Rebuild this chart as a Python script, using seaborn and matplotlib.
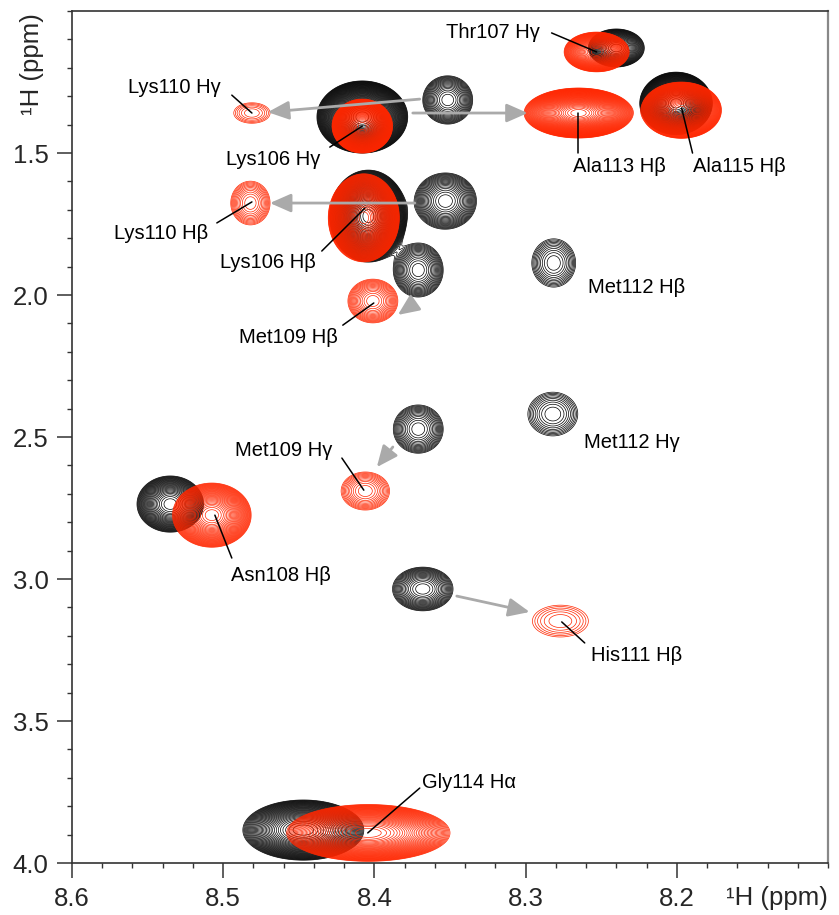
"""Overlay of two 1H-1H spectra (black = reference, red = shifted state)
drawn as contour plots, with residue labels and gray shift arrows."""
import numpy as np
import matplotlib
matplotlib.use("Agg")
import matplotlib.pyplot as plt
from matplotlib.ticker import MultipleLocator
import seaborn as sns


# --- peaks: centre (ppm), half-extent of the lowest contour (ppm), contour count
black_x = [8.240, 8.408, 8.3515, 8.2005, 8.404, 8.353, 8.371, 8.2814, 8.371, 8.282, 8.535, 8.368, 8.447]
black_y = [1.130, 1.373, 1.313, 1.325, 1.722, 1.669, 1.912, 1.887, 2.472, 2.419, 2.736, 3.035, 3.884]
black_hx = [0.0185, 0.030, 0.0165, 0.024, 0.0255, 0.0205, 0.0165, 0.0145, 0.0165, 0.0165, 0.022, 0.020, 0.040]
black_hy = [0.067, 0.127, 0.085, 0.110, 0.162, 0.099, 0.095, 0.085, 0.085, 0.077, 0.099, 0.077, 0.106]
black_n = [25, 50, 18, 45, 50, 20, 17, 11, 15, 10, 28, 18, 35]

red_x = [8.253, 8.481, 8.408, 8.265, 8.197, 8.482, 8.407, 8.401, 8.406, 8.5075, 8.277, 8.404]
red_y = [1.144, 1.359, 1.405, 1.359, 1.349, 1.676, 1.728, 2.021, 2.690, 2.775, 3.148, 3.894]
red_hx = [0.0215, 0.012, 0.020, 0.036, 0.0265, 0.013, 0.0235, 0.0165, 0.016, 0.026, 0.0185, 0.054]
red_hy = [0.070, 0.036, 0.095, 0.088, 0.099, 0.077, 0.155, 0.077, 0.067, 0.113, 0.056, 0.100]
red_n = [35, 6, 55, 50, 50, 12, 55, 16, 12, 35, 6, 40]

# --- labels: text, text position, ha, leader line start -> end (None = no leader)
labels = ["Thr107 Hγ", "Lys110 Hγ", "Lys106 Hγ", "Ala113 Hβ", "Ala115 Hβ",
          "Lys110 Hβ", "Lys106 Hβ", "Met112 Hβ", "Met109 Hβ", "Met112 Hγ",
          "Met109 Hγ", "Asn108 Hβ", "His111 Hβ", "Gly114 Hα"]
label_x = [8.2907, 8.532, 8.4672, 8.2378, 8.1585, 8.5412, 8.4705, 8.2266,
           8.4572, 8.2299, 8.4599, 8.4619, 8.2266, 8.3687]
label_y = [1.074, 1.268, 1.521, 1.549, 1.549, 1.782, 1.887, 1.972,
           2.148, 2.518, 2.546, 2.986, 3.268, 3.718]
label_ha = ["right", "center", "center", "center", "center", "center", "center",
            "center", "center", "center", "center", "center", "center", "left"]
leader_from = [(8.2828, 1.077), (8.4943, 1.296), (8.4295, 1.479), (8.2656, 1.500),
               (8.1896, 1.500), (8.5042, 1.746), (8.4348, 1.845), None,
               (8.4209, 2.106), None, (8.4215, 2.574), (8.4943, 2.926),
               (8.2609, 3.225), (8.3700, 3.736)]
leader_to = [(8.253, 1.144), (8.481, 1.359), (8.408, 1.405), (8.2656, 1.359),
             (8.1968, 1.342), (8.481, 1.672), (8.4063, 1.694), None,
             (8.4004, 2.028), None, (8.407, 2.687), (8.5055, 2.775),
             (8.2761, 3.151), (8.4044, 3.894)]

# --- shift arrows (black peak -> red peak)
arrow_from = [(8.370, 1.310), (8.3746, 1.359), (8.3733, 1.676),
              (8.3733, 2.028), (8.3878, 2.535), (8.3455, 3.060)]
arrow_to = [(8.4705, 1.356), (8.2986, 1.359), (8.4691, 1.676),
            (8.3845, 2.070), (8.3984, 2.606), (8.2973, 3.116)]

STEP = 1.12     # ratio between successive contour levels
BASE = 1.0      # lowest contour level

xs = np.linspace(8.1, 8.6, 900)
ys = np.linspace(1.0, 4.0, 1700)
X, Y = np.meshgrid(xs, ys)


def spectrum(px, py, hx, hy, nlev):
    z = np.zeros_like(X)
    for x0, y0, ax_, ay_, n in zip(px, py, hx, hy, nlev):
        k = np.sqrt(2 * n * np.log(STEP))
        sx, sy = ax_ / k, ay_ / k
        amp = BASE * STEP ** n
        z += amp * np.exp(-0.5 * (((X - x0) / sx) ** 2 + ((Y - y0) / sy) ** 2))
    return z


sns.set_theme(style="ticks")
plt.rcParams["font.family"] = ["Liberation Sans", "DejaVu Sans"]

fig = plt.figure(figsize=(8.39, 9.15), dpi=100)
ax = fig.add_axes([0.0858, 0.0568, 0.9011, 0.9311])

levels = BASE * STEP ** np.arange(0, 90)
ax.contour(X, Y, spectrum(black_x, black_y, black_hx, black_hy, black_n),
           levels=levels, colors="black", linewidths=0.5)
ax.contour(X, Y, spectrum(red_x, red_y, red_hx, red_hy, red_n),
           levels=levels, colors="#ff2600", linewidths=0.5)

for txt, tx, ty, ha, a, b in zip(labels, label_x, label_y, label_ha,
                                 leader_from, leader_to):
    ax.text(tx, ty, txt, ha=ha, va="center", fontsize=14.5, color="black")
    if a is not None:
        ax.plot([a[0], b[0]], [a[1], b[1]], color="black", lw=1.1)

for a, b in zip(arrow_from, arrow_to):
    ax.annotate("", xy=b, xytext=a,
                arrowprops=dict(arrowstyle="-|>,head_length=0.75,head_width=0.33",
                                color="#aaaaaa", lw=2.0, mutation_scale=17,
                                shrinkA=0, shrinkB=0))

ax.set_xlim(8.6, 8.1)
ax.set_ylim(4.0, 1.0)
ax.set_xticks([8.6, 8.5, 8.4, 8.3, 8.2])
ax.set_yticks([1.5, 2.0, 2.5, 3.0, 3.5, 4.0])
ax.xaxis.set_minor_locator(MultipleLocator(0.02))
ax.yaxis.set_minor_locator(MultipleLocator(0.1))
ax.tick_params(which="major", length=11, width=1.1, labelsize=18.5,
               color="#333333", pad=6)
ax.tick_params(which="minor", length=3.8, width=1.0, color="#333333")
ax.grid(False)

for side in ["left", "bottom", "top"]:
    ax.spines[side].set_color("#333333")
    ax.spines[side].set_linewidth(1.2)
ax.spines["right"].set_color("#888888")
ax.spines["right"].set_linewidth(1.6)

fig.text(828 / 839, 1 - 898 / 915, "¹H (ppm)", ha="right", va="center",
         fontsize=18.5)
fig.text(32 / 839, 1 - 13 / 915, "¹H (ppm)", ha="center", va="top",
         rotation=90, fontsize=18.5)

fig.savefig("out.png", dpi=100)
